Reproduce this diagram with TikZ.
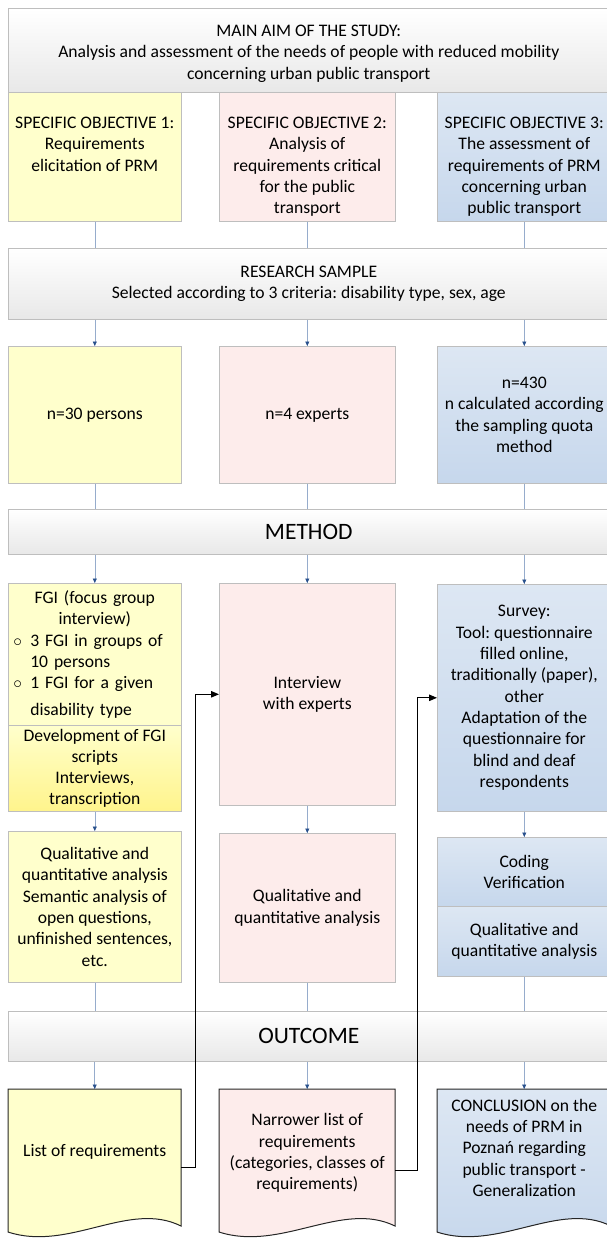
\documentclass[tikz,border=0pt]{standalone}
\usepackage{fontspec}
\setmainfont{Carlito}
\usetikzlibrary{arrows.meta,positioning}
\definecolor{gelb}{RGB}{255,255,204}
\definecolor{gelbkraeftig}{RGB}{255,244,140}
\definecolor{rosa}{RGB}{253,236,235}
\definecolor{blauhell}{RGB}{221,231,243}
\definecolor{blaudunkel}{RGB}{198,215,236}
\definecolor{grauhell}{RGB}{232,232,232}
\definecolor{rahmen}{RGB}{190,190,190}
\definecolor{linie}{RGB}{150,172,204}
\definecolor{spitze}{RGB}{40,80,140}
\frenchspacing
\begin{document}
\begin{tikzpicture}[x=1pt, y=-1pt,
    every node/.style={font=\fontsize{17.6}{21.3}\selectfont, align=center, inner sep=0pt},
    kopf/.style={draw=rahmen, line width=0.6pt, top color=white, bottom color=grauhell, minimum width=601pt, anchor=north west},
    spalteA/.style={draw=rahmen, line width=0.6pt, fill=gelb, minimum width=173pt, anchor=north west},
    spalteB/.style={draw=rahmen, line width=0.6pt, fill=rosa, minimum width=176pt, anchor=north west},
    spalteC/.style={draw=rahmen, line width=0.6pt, top color=blauhell, bottom color=blaudunkel, minimum width=174pt, anchor=north west},
    gross/.style={font=\fontsize{23.5}{28}\selectfont},
    linie/.style={draw=linie, line width=0.6pt},
    pfeil/.style={draw=linie, line width=0.6pt, -{Triangle[length=4.5pt, width=4pt, color=spitze]}},
    rueck/.style={draw=black, line width=1pt, -{Triangle[length=8pt, width=6.5pt]}},
    doku/.style={draw=black!85, line width=1pt}]
    \useasboundingbox (0,0) rectangle (607,1239);

    % Hauptziel
    \node[kopf, minimum height=84pt] (ziel) at (8,8)
      {\rule{0pt}{18pt}MAIN AIM OF THE STUDY:\\Analysis and assessment of the needs of people with reduced mobility\\concerning urban public transport};

    % Teilziele
    \node[spalteA, minimum height=129pt] (ziel1) at (8,92) {};
    \node[spalteB, minimum height=129pt] (ziel2) at (219,92) {};
    \node[spalteC, minimum height=129pt] (ziel3) at (437,92) {};
    \node[below=25pt of ziel1.north, anchor=north] (ziel1text) {SPECIFIC OBJECTIVE 1:\\Requirements\\elicitation of PRM};
    \node[below=25pt of ziel2.north, anchor=north] (ziel2text) {SPECIFIC OBJECTIVE 2:\\Analysis of\\requirements critical\\for the public\\transport};
    \node[below=25pt of ziel3.north, anchor=north] (ziel3text) {SPECIFIC OBJECTIVE 3:\\The assessment of\\requirements of PRM\\concerning urban\\public transport};

    % Stichprobe
    \node[kopf, minimum height=71pt] (stichprobe) at (8,248)
      {RESEARCH SAMPLE\\Selected according to 3 criteria: disability type, sex, age};
    \node[spalteA, minimum height=137pt] (probe1) at (8,346) {n=30 persons};
    \node[spalteB, minimum height=137pt] (probe2) at (219,346) {n=4 experts};
    \node[spalteC, minimum height=137pt] (probe3) at (437,346)
      {n=430\\n calculated according\\the sampling quota\\method};

    % Methode
    \node[kopf, gross, minimum height=45pt] (methode) at (8,509) {METHOD};
    \node[spalteA, minimum height=142pt, align=left, text width=163pt, inner xsep=5pt] (fgi) at (8,583)
      {\makebox[163pt]{FGI (focus group}\\
       \makebox[163pt]{interview)}\\
       \makebox[17pt][l]{$\circ$}3 FGI in groups of\\
       \hspace*{17pt}10 persons\\
       \makebox[17pt][l]{$\circ$}1 FGI for a given\\[5pt]
       \hspace*{17pt}disability type};
    \node[draw=rahmen, line width=0.6pt, top color=gelb, bottom color=gelbkraeftig,
      minimum width=173pt, minimum height=86pt, anchor=north west] (skripte) at (8,725)
      {Development of FGI\\scripts\\Interviews,\\transcription};
    \node[spalteB, minimum height=222pt] (interview) at (219,583) {Interview\\with experts};
    \node[spalteC, minimum height=227pt] (umfrage) at (437,584)
      {Survey:\\Tool: questionnaire\\filled online,\\traditionally (paper),\\other\\Adaptation of the\\questionnaire for\\blind and deaf\\respondents};

    % Analyse
    \node[spalteA, minimum height=151pt] (analyse1) at (8,831)
      {Qualitative and\\quantitative analysis\\Semantic analysis of\\open questions,\\unfinished sentences,\\etc.};
    \node[spalteB, minimum height=149pt] (analyse2) at (219,833) {Qualitative and\\quantitative analysis};
    \node[spalteC, minimum height=69pt] (kodierung) at (437,837) {Coding\\Verification};
    \node[spalteC, minimum height=70pt] (analyse3) at (437,906) {Qualitative and\\quantitative analysis};

    % Ergebnis
    \node[kopf, gross, minimum height=50pt] (ergebnis) at (8,1011) {OUTCOME};
    \filldraw[doku, fill=gelb] (8,1089) -- (181,1089) -- (181,1226) .. controls (129,1200) and (69,1252) .. (8,1232) -- cycle;
    \filldraw[doku, fill=rosa] (219,1089) -- (395,1089) -- (395,1226) .. controls (342,1200) and (281,1252) .. (219,1232) -- cycle;
    \filldraw[doku, top color=blauhell, bottom color=blaudunkel] (437,1089) -- (611,1089) -- (611,1226) .. controls (559,1200) and (498,1252) .. (437,1232) -- cycle;
    \node[minimum width=173pt, minimum height=126pt, anchor=north west] (liste1) at (8,1089) {List of requirements};
    \node[minimum width=176pt, minimum height=128pt, anchor=north west] (liste2) at (219,1089)
      {Narrower list of\\requirements\\(categories, classes of\\requirements)};
    \node[minimum width=174pt, minimum height=117pt, anchor=north west] (fazit) at (437,1089)
      {CONCLUSION on the\\needs of PRM in\\Poznań regarding\\public transport -\\Generalization};

    % Verbindungen
    \foreach \oben/\unten in {ziel1/probe1, ziel2/probe2, ziel3/probe3} {
      \draw[linie] (\oben.south) -- (\oben.south |- stichprobe.north);
      \draw[pfeil] (stichprobe.south -| \unten.north) -- (\unten.north);
    }
    \foreach \oben/\unten in {probe1/fgi, probe2/interview, probe3/umfrage} {
      \draw[linie] (\oben.south) -- (\oben.south |- methode.north);
      \draw[pfeil] (methode.south -| \unten.north) -- (\unten.north);
    }
    \draw[pfeil] (skripte.south) -- (analyse1.north);
    \draw[pfeil] (interview.south) -- (analyse2.north);
    \draw[pfeil] (umfrage.south) -- (kodierung.north);
    \foreach \oben/\unten in {analyse1/liste1, analyse2/liste2, analyse3/fazit} {
      \draw[linie] (\oben.south) -- (\oben.south |- ergebnis.north);
      \draw[pfeil] (ergebnis.south -| \unten.north) -- (\unten.north);
    }

    % Rueckkopplung
    \draw[rueck] ([yshift=-15pt]liste1.east) -- ++(14,0) |- (interview.west);
    \draw[rueck] ([yshift=-17pt]liste2.east) -- ++(22,0) |- (umfrage.west);
  \end{tikzpicture}
\end{document}
